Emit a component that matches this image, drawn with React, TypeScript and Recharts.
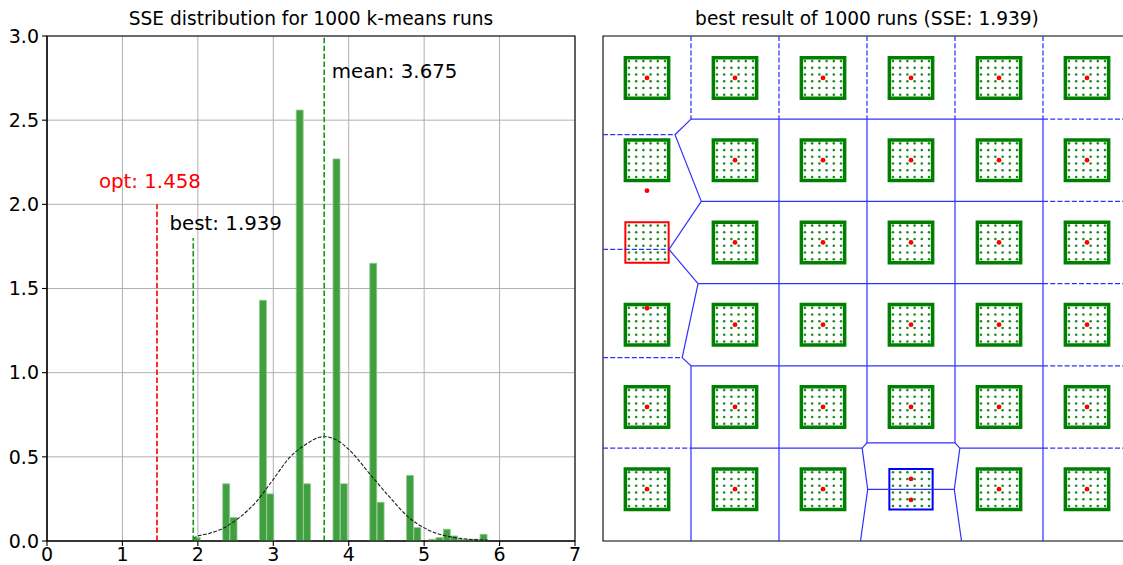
import React from 'react';
import {
  ComposedChart,
  Bar,
  Line,
  XAxis,
  YAxis,
  CartesianGrid,
  ReferenceLine,
  ReferenceArea,
  ReferenceDot,
  Scatter,
} from 'recharts';

const FONT = '"DejaVu Sans", "Liberation Sans", sans-serif';

// ---------------- Left panel: histogram ----------------
const LEFT_TITLE = 'SSE distribution for 1000 k-means runs';
const BIN_MIN = 1.939;
const BIN_WIDTH = 0.0975;
const binDensity = [
  0.02, 0, 0, 0, 0.34, 0.14, 0, 0, 0, 1.43,
  0.28, 0, 0, 0, 2.56, 0.34, 0, 0, 0, 2.27,
  0.34, 0, 0, 0, 1.65, 0.23, 0, 0, 0, 0.39,
  0.08, 0, 0.01, 0.02, 0.07, 0.03, 0.01, 0.01, 0.01, 0.04,
];
const histData = binDensity.map((d, i) => ({ x: BIN_MIN + (i + 0.5) * BIN_WIDTH, density: d }));

const xTicks = [0, 1, 2, 3, 4, 5, 6, 7];
const yTicks = [0, 0.5, 1, 1.5, 2, 2.5, 3];

const fitX = [1.939, 1.979, 2.15, 2.331, 2.552, 2.773, 2.993, 3.214, 3.435, 3.611, 3.675, 3.876, 4.008, 4.273, 4.538, 4.802, 5.067, 5.332, 5.55, 5.84];
const fitY = [0.016, 0.026, 0.045, 0.075, 0.14, 0.233, 0.362, 0.495, 0.575, 0.616, 0.62, 0.59, 0.541, 0.402, 0.263, 0.138, 0.063, 0.026, 0.012, 0.005];
const fitData = fitX.map((x, i) => ({ x, fit: fitY[i] }));

const markerNames = ['opt', 'best', 'mean'];
const markerValues = [1.458, 1.939, 3.675];
const markerTops = [2.0, 1.8, 3.0];
const markerColors = ['#ff0000', '#1a961a', '#1a961a'];
const labelTexts = ['opt: 1.458', 'best: 1.939', 'mean: 3.675'];
const labelX = [0.688, 1.625, 3.775];
const labelY = [2.1, 1.85, 2.75];
const labelColors = ['#ff0000', '#000000', '#000000'];

// ---------------- Right panel: best clustering ----------------
const RIGHT_TITLE = 'best result of 1000 runs (SSE: 1.939)';
const clusterCols = [0, 1, 2, 3, 4, 5];
const clusterRows = [0, 1, 2, 3, 4, 5];
const dotOffsets = [-0.205, -0.123, -0.041, 0.041, 0.123, 0.205];
const SQUARE_HALF = 0.246;
const redCluster = [0, 2];
const blueCluster = [3, 5];

const centroidX = [
  0, 1, 2, 3, 4, 5,
  0, 1, 2, 3, 4, 5,
  1, 2, 3, 4, 5,
  0, 1, 2, 3, 4, 5,
  0, 1, 2, 3, 4, 5,
  0, 1, 2, 3, 3, 4, 5,
];
const centroidY = [
  0, 0, 0, 0, 0, 0,
  1.37, 1, 1, 1, 1, 1,
  2, 2, 2, 2, 2,
  2.8, 3, 3, 3, 3, 3,
  4, 4, 4, 4, 4, 4,
  5, 5, 5, 4.875, 5.13, 5, 5,
];

const solidEdges: number[][][] = [
  [[0.5, 0.5], [0.318, 0.69], [0.617, 1.5], [0.25, 2.085], [0.58, 2.5], [0.4, 3.4], [0.5, 3.5], [0.5, 5.63]],
  [[0.5, 0.5], [4.5, 0.5]],
  [[0.617, 1.5], [4.5, 1.5]],
  [[0.58, 2.5], [4.5, 2.5]],
  [[0.5, 3.5], [4.5, 3.5]],
  [[0.5, 4.5], [2.445, 4.5]],
  [[3.555, 4.5], [4.5, 4.5]],
  [[1.5, 0.5], [1.5, 5.63]],
  [[2.5, 0.5], [2.5, 4.4375]],
  [[3.5, 0.5], [3.5, 4.4375]],
  [[4.5, 0.5], [4.5, 5.63]],
  [[2.445, 4.5], [2.5, 4.4375], [3.5, 4.4375], [3.555, 4.5]],
  [[2.445, 4.5], [2.508, 5.0025], [2.426, 5.63]],
  [[3.555, 4.5], [3.492, 5.0025], [3.574, 5.63]],
  [[2.508, 5.0025], [3.492, 5.0025]],
];
const dashedEdges: number[][][] = [
  [[0.5, -0.51], [0.5, 0.5]],
  [[1.5, -0.51], [1.5, 0.5]],
  [[2.5, -0.51], [2.5, 0.5]],
  [[3.5, -0.51], [3.5, 0.5]],
  [[4.5, -0.51], [4.5, 0.5]],
  [[-0.5, 0.69], [0.318, 0.69]],
  [[-0.5, 2.085], [0.25, 2.085]],
  [[-0.5, 3.4], [0.4, 3.4]],
  [[-0.5, 4.5], [0.5, 4.5]],
  [[4.5, 0.5], [5.5, 0.5]],
  [[4.5, 1.5], [5.5, 1.5]],
  [[4.5, 2.5], [5.5, 2.5]],
  [[4.5, 3.5], [5.5, 3.5]],
  [[4.5, 4.5], [5.5, 4.5]],
];

const clusters = clusterRows.flatMap((r) => clusterCols.map((c) => ({ c, r })));
const dotData = clusters.flatMap(({ c, r }) =>
  dotOffsets.flatMap((dy) => dotOffsets.map((dx) => ({ x: c + dx, y: r + dy })))
);
const centroidData = centroidX.map((x, i) => ({ x, y: centroidY[i] }));
const toPts = (pts: number[][]) => pts.map(([x, y]) => ({ x, y }));

const squareColor = (c: number, r: number) =>
  c === redCluster[0] && r === redCluster[1] ? '#ff0000' : c === blueCluster[0] && r === blueCluster[1] ? '#0000ff' : '#008000';

const EDGE_COLOR = '#3030ff';

const titleStyle = (left: number, width: number): React.CSSProperties => ({
  position: 'absolute',
  left,
  top: 8,
  width,
  textAlign: 'center',
  fontFamily: FONT,
  fontSize: 18.6,
  lineHeight: '22px',
  color: '#000',
  whiteSpace: 'nowrap',
});

export default function App() {
  const tickStyle = { fill: '#000', fontSize: 19, fontFamily: FONT };
  return (
    <div style={{ position: 'fixed', left: 0, top: 0, width: 1123, height: 565, overflow: 'hidden', background: '#fff' }}>
      <div style={titleStyle(47, 528)}>{LEFT_TITLE}</div>
      <div style={titleStyle(603, 528)}>{RIGHT_TITLE}</div>

      <div style={{ position: 'absolute', left: 0, top: 0 }}>
        <ComposedChart
          width={600}
          height={565}
          data={histData}
          margin={{ top: 36, right: 25, bottom: 0, left: 0 }}
          barCategoryGap={0}
          barGap={0}
        >
          <CartesianGrid stroke="#b0b0b0" strokeWidth={1} horizontalValues={yTicks} verticalValues={xTicks} />
          <XAxis
            dataKey="x"
            type="number"
            domain={[0, 7]}
            ticks={xTicks}
            height={24}
            tickSize={5}
            tickMargin={2}
            tick={tickStyle}
            axisLine={{ stroke: '#000', strokeWidth: 1.1 }}
            tickLine={{ stroke: '#000', strokeWidth: 1.1 }}
            interval={0}
            allowDecimals
          />
          <XAxis xAxisId="fit" dataKey="x" type="number" domain={[0, 7]} hide />
          <YAxis
            type="number"
            domain={[0, 3]}
            ticks={yTicks}
            width={47}
            tickSize={5}
            tickMargin={3}
            tick={tickStyle}
            tickFormatter={(v: number) => v.toFixed(1)}
            axisLine={{ stroke: '#000', strokeWidth: 1.1 }}
            tickLine={{ stroke: '#000', strokeWidth: 1.1 }}
            interval={0}
          />
          <Bar dataKey="density" fill="#40a040" stroke="#93cc93" strokeWidth={0.8} isAnimationActive={false} />
          <Line
            xAxisId="fit"
            data={fitData}
            dataKey="fit"
            type="monotone"
            stroke="#1a1a1a"
            strokeWidth={1.1}
            strokeDasharray="3.7 1.6"
            dot={false}
            isAnimationActive={false}
          />
          {markerValues.map((v, i) => (
            <ReferenceLine
              key={markerNames[i]}
              segment={[{ x: v, y: 0 }, { x: v, y: markerTops[i] }]}
              stroke={markerColors[i]}
              strokeWidth={1.6}
              strokeDasharray="5.5 2.4"
            />
          ))}
          {labelTexts.map((t, i) => (
            <ReferenceDot
              key={t}
              x={labelX[i]}
              y={labelY[i]}
              r={0}
              shape={(p: any) => (
                <text x={p.cx} y={p.cy} fill={labelColors[i]} fontSize={19.8} fontFamily={FONT}>
                  {t}
                </text>
              )}
            />
          ))}
          <ReferenceArea x1={0} x2={7} y1={0} y2={3} fill="none" stroke="#000" strokeWidth={1.1} ifOverflow="visible" />
        </ComposedChart>
      </div>

      <div style={{ position: 'absolute', left: 602, top: 35 }}>
        <ComposedChart width={530} height={507} margin={{ top: 1, right: 1, bottom: 1, left: 1 }}>
          <XAxis dataKey="x" type="number" domain={[-0.5, 5.5]} allowDataOverflow hide />
          <YAxis dataKey="y" type="number" domain={[-0.51, 5.63]} allowDataOverflow reversed hide />
          {clusters.map(({ c, r }) => (
            <ReferenceArea
              key={`sq-${c}-${r}`}
              x1={c - SQUARE_HALF}
              x2={c + SQUARE_HALF}
              y1={r - SQUARE_HALF}
              y2={r + SQUARE_HALF}
              fill="#fff"
              fillOpacity={1}
              stroke={squareColor(c, r)}
              strokeWidth={squareColor(c, r) === '#008000' ? 3.5 : 2}
            />
          ))}
          {dashedEdges.map((pts, i) => (
            <ReferenceLine
              key={`d${i}`}
              segment={toPts(pts)}
              stroke={EDGE_COLOR}
              strokeWidth={1.25}
              strokeDasharray="5 2.2"
              ifOverflow="hidden"
            />
          ))}
          {solidEdges.map((pts, i) => (
            <Line
              key={`s${i}`}
              data={toPts(pts)}
              dataKey="y"
              type="linear"
              stroke={EDGE_COLOR}
              strokeWidth={1.2}
              dot={false}
              isAnimationActive={false}
            />
          ))}
          <Scatter
            data={dotData}
            dataKey="y"
            isAnimationActive={false}
            shape={(p: any) => <circle cx={p.cx} cy={p.cy} r={1.3} fill="#1e8c1e" />}
          />
          <Scatter
            data={centroidData}
            dataKey="y"
            isAnimationActive={false}
            shape={(p: any) => <circle cx={p.cx} cy={p.cy} r={2.4} fill="#ff0000" />}
          />
          <ReferenceArea x1={-0.5} x2={5.5} y1={-0.51} y2={5.63} fill="none" stroke="#000" strokeWidth={1.1} ifOverflow="visible" />
        </ComposedChart>
      </div>
    </div>
  );
}
